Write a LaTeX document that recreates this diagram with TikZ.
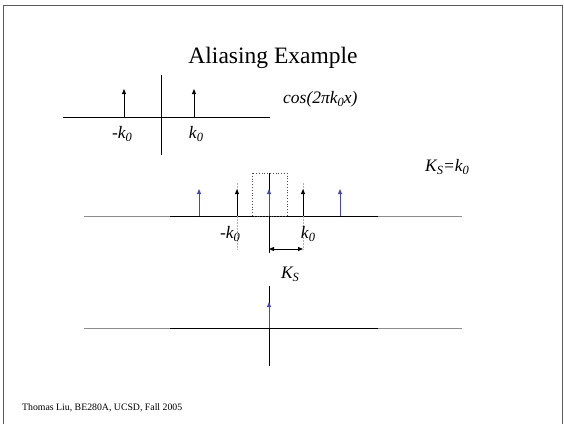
\documentclass[tikz,border=0pt]{standalone}
\usepackage{fontspec}
\setmainfont{Liberation Serif}
\usetikzlibrary{arrows.meta}
\definecolor{spikeblue}{RGB}{72,72,176}
\definecolor{framegray}{RGB}{90,90,90}
\newcommand{\sbs}[1]{\raisebox{-0.4ex}{\fontsize{12.5}{13}\selectfont\itshape #1}}
\begin{document}
\begin{tikzpicture}[x=1pt,y=-1pt,
  spike/.style={-{Triangle[length=5pt,width=4pt]}, line width=0.9pt},
  bluespike/.style={spike, draw=spikeblue, fill=spikeblue},
  axisline/.style={line width=0.9pt},
  grayaxis/.style={line width=0.9pt, draw=black!45},
  guide/.style={draw=black!30, dashed, line width=0.6pt, dash pattern=on 2pt off 1pt},
  lbl/.style={font=\fontsize{17.5}{20}\selectfont\itshape, inner sep=0pt}]
\useasboundingbox (0,0) rectangle (564,424);
% frame
\draw[framegray, line width=1pt] (3,424) -- (3,5) -- (562,5) -- (562,424);
% title
\node[inner sep=0pt] (title) at (273,58) {\fontsize{23.5}{28}\selectfont Aliasing Example};
% ---------- top panel ----------
\coordinate (tl) at (63,117); \coordinate (tr) at (270,117);
\coordinate (tvt) at (161,75); \coordinate (tvb) at (161,155);
\draw[axisline] (tl) -- (tr);
\draw[axisline] (tvt) -- (tvb);
\coordinate (ta1b) at (124,117); \coordinate (ta1t) at (124,89);
\coordinate (ta2b) at (194,117); \coordinate (ta2t) at (194,89);
\draw[spike] (ta1b) -- (ta1t);
\draw[spike] (ta2b) -- (ta2t);
\node[lbl] (tlm) at (122,134) {-k\sbs{0}};
\node[lbl] (tlp) at (196,134) {k\sbs{0}};
\node[lbl, anchor=west] (cosl) at (283,99) {cos(2πk\sbs{0}x)};
% ---------- middle panel ----------
\coordinate (ml) at (84,216); \coordinate (mr) at (462,216);
\coordinate (mdl) at (170,216); \coordinate (mdr) at (378,216);
\draw[grayaxis] (ml) -- (mr);
\draw[axisline] (mdl) -- (mdr);
\draw[black!70, dotted, line width=0.8pt] (252,173) rectangle (287,216);
\coordinate (mgt1) at (237,183); \coordinate (mgb1) at (237,250);
\coordinate (mgt2) at (303,183); \coordinate (mgb2) at (303,250);
\draw[guide] (mgt1) -- (mgb1);
\draw[guide] (mgt2) -- (mgb2);
\coordinate (mvt) at (269,173); \coordinate (mvb) at (269,253);
\draw[axisline] (mvt) -- (mvb);
\draw[bluespike] (199,216) -- (199,189);
\draw[bluespike] (340,216) -- (340,189);
\draw[bluespike] (269,216) -- (269,189);
\draw[spike] (237,216) -- (237,189);
\draw[spike] (303,216) -- (303,189);
\node[lbl] (mlm) at (230,234) {-k\sbs{0}};
\node[lbl] (mlp) at (308,234) {k\sbs{0}};
\coordinate (dal) at (269,249); \coordinate (dar) at (303,249);
\draw[{Triangle[length=5pt,width=4pt]}-{Triangle[length=5pt,width=4pt]}, line width=0.9pt] (dal) -- (dar);
\node[lbl] (ksl) at (290,274) {K\sbs{S}};
\node[lbl] (ksk) at (447,167) {K\sbs{S}=k\sbs{0}};
% ---------- bottom panel ----------
\coordinate (bl) at (84,328); \coordinate (br) at (462,328);
\coordinate (bdl) at (170,328); \coordinate (bdr) at (378,328);
\draw[grayaxis] (bl) -- (br);
\draw[axisline] (bdl) -- (bdr);
\coordinate (bvt) at (269,286); \coordinate (bvb) at (269,366);
\draw[axisline] (bvt) -- (bvb);
\coordinate (bsb) at (269,328); \coordinate (bst) at (269,302);
\draw[bluespike] (bsb) -- (bst);
% footer
\node[inner sep=0pt, anchor=west] (foot) at (22,408) {\fontsize{9.8}{11}\selectfont Thomas Liu, BE280A, UCSD, Fall 2005};
\end{tikzpicture}
\end{document}
